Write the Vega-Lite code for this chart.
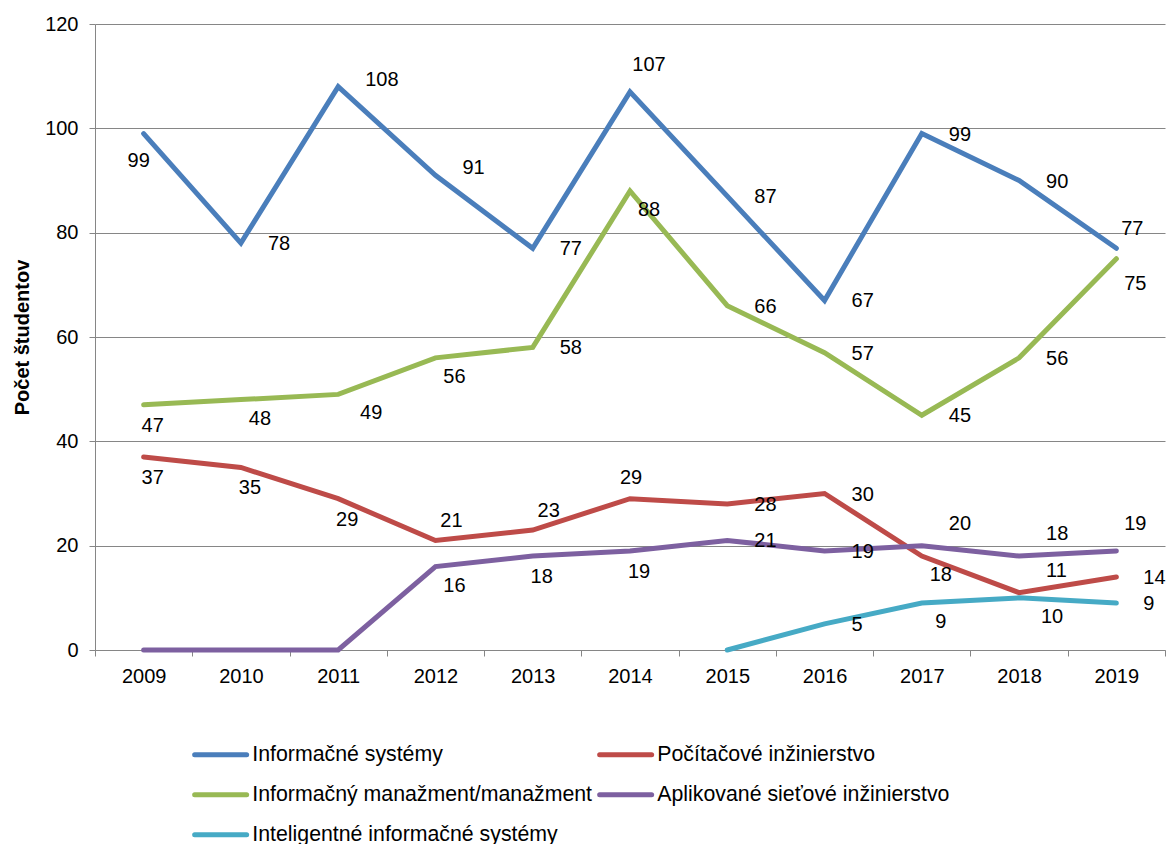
{
  "$schema": "https://vega.github.io/schema/vega-lite/v6.json",
  "width": 1070,
  "height": 626,
  "autosize": {"type": "none"},
  "padding": {"left": 95, "top": 24, "right": 4, "bottom": 194},
  "background": "white",
  "config": {
    "font": "Liberation Sans",
    "view": {"stroke": null},
    "axis": {
      "labelFont": "Liberation Sans",
      "labelFontSize": 20,
      "labelColor": "#000000",
      "domainColor": "#868686",
      "tickColor": "#868686",
      "gridColor": "#868686",
      "tickSize": 6,
      "titleFont": "Liberation Sans",
      "titleColor": "#000000"
    },
    "text": {"font": "Liberation Sans", "fontSize": 20, "color": "#000000", "baseline": "middle"}
  },
  "data": {
    "values": [
      {"rok": "2009", "odbor": "Informačné systémy", "skratka": "IS", "pocet": 99},
      {"rok": "2010", "odbor": "Informačné systémy", "skratka": "IS", "pocet": 78},
      {"rok": "2011", "odbor": "Informačné systémy", "skratka": "IS", "pocet": 108},
      {"rok": "2012", "odbor": "Informačné systémy", "skratka": "IS", "pocet": 91},
      {"rok": "2013", "odbor": "Informačné systémy", "skratka": "IS", "pocet": 77},
      {"rok": "2014", "odbor": "Informačné systémy", "skratka": "IS", "pocet": 107},
      {"rok": "2015", "odbor": "Informačné systémy", "skratka": "IS", "pocet": 87},
      {"rok": "2016", "odbor": "Informačné systémy", "skratka": "IS", "pocet": 67},
      {"rok": "2017", "odbor": "Informačné systémy", "skratka": "IS", "pocet": 99},
      {"rok": "2018", "odbor": "Informačné systémy", "skratka": "IS", "pocet": 90},
      {"rok": "2019", "odbor": "Informačné systémy", "skratka": "IS", "pocet": 77},
      {"rok": "2009", "odbor": "Počítačové inžinierstvo", "skratka": "PI", "pocet": 37},
      {"rok": "2010", "odbor": "Počítačové inžinierstvo", "skratka": "PI", "pocet": 35},
      {"rok": "2011", "odbor": "Počítačové inžinierstvo", "skratka": "PI", "pocet": 29},
      {"rok": "2012", "odbor": "Počítačové inžinierstvo", "skratka": "PI", "pocet": 21},
      {"rok": "2013", "odbor": "Počítačové inžinierstvo", "skratka": "PI", "pocet": 23},
      {"rok": "2014", "odbor": "Počítačové inžinierstvo", "skratka": "PI", "pocet": 29},
      {"rok": "2015", "odbor": "Počítačové inžinierstvo", "skratka": "PI", "pocet": 28},
      {"rok": "2016", "odbor": "Počítačové inžinierstvo", "skratka": "PI", "pocet": 30},
      {"rok": "2017", "odbor": "Počítačové inžinierstvo", "skratka": "PI", "pocet": 18},
      {"rok": "2018", "odbor": "Počítačové inžinierstvo", "skratka": "PI", "pocet": 11},
      {"rok": "2019", "odbor": "Počítačové inžinierstvo", "skratka": "PI", "pocet": 14},
      {"rok": "2009", "odbor": "Informačný manažment/manažment", "skratka": "IM", "pocet": 47},
      {"rok": "2010", "odbor": "Informačný manažment/manažment", "skratka": "IM", "pocet": 48},
      {"rok": "2011", "odbor": "Informačný manažment/manažment", "skratka": "IM", "pocet": 49},
      {"rok": "2012", "odbor": "Informačný manažment/manažment", "skratka": "IM", "pocet": 56},
      {"rok": "2013", "odbor": "Informačný manažment/manažment", "skratka": "IM", "pocet": 58},
      {"rok": "2014", "odbor": "Informačný manažment/manažment", "skratka": "IM", "pocet": 88},
      {"rok": "2015", "odbor": "Informačný manažment/manažment", "skratka": "IM", "pocet": 66},
      {"rok": "2016", "odbor": "Informačný manažment/manažment", "skratka": "IM", "pocet": 57},
      {"rok": "2017", "odbor": "Informačný manažment/manažment", "skratka": "IM", "pocet": 45},
      {"rok": "2018", "odbor": "Informačný manažment/manažment", "skratka": "IM", "pocet": 56},
      {"rok": "2019", "odbor": "Informačný manažment/manažment", "skratka": "IM", "pocet": 75},
      {"rok": "2009", "odbor": "Aplikované sieťové inžinierstvo", "skratka": "ASI", "pocet": 0},
      {"rok": "2010", "odbor": "Aplikované sieťové inžinierstvo", "skratka": "ASI", "pocet": 0},
      {"rok": "2011", "odbor": "Aplikované sieťové inžinierstvo", "skratka": "ASI", "pocet": 0},
      {"rok": "2012", "odbor": "Aplikované sieťové inžinierstvo", "skratka": "ASI", "pocet": 16},
      {"rok": "2013", "odbor": "Aplikované sieťové inžinierstvo", "skratka": "ASI", "pocet": 18},
      {"rok": "2014", "odbor": "Aplikované sieťové inžinierstvo", "skratka": "ASI", "pocet": 19},
      {"rok": "2015", "odbor": "Aplikované sieťové inžinierstvo", "skratka": "ASI", "pocet": 21},
      {"rok": "2016", "odbor": "Aplikované sieťové inžinierstvo", "skratka": "ASI", "pocet": 19},
      {"rok": "2017", "odbor": "Aplikované sieťové inžinierstvo", "skratka": "ASI", "pocet": 20},
      {"rok": "2018", "odbor": "Aplikované sieťové inžinierstvo", "skratka": "ASI", "pocet": 18},
      {"rok": "2019", "odbor": "Aplikované sieťové inžinierstvo", "skratka": "ASI", "pocet": 19},
      {"rok": "2015", "odbor": "Inteligentné informačné systémy", "skratka": "IIS", "pocet": 0},
      {"rok": "2016", "odbor": "Inteligentné informačné systémy", "skratka": "IIS", "pocet": 5},
      {"rok": "2017", "odbor": "Inteligentné informačné systémy", "skratka": "IIS", "pocet": 9},
      {"rok": "2018", "odbor": "Inteligentné informačné systémy", "skratka": "IIS", "pocet": 10},
      {"rok": "2019", "odbor": "Inteligentné informačné systémy", "skratka": "IIS", "pocet": 9}
    ]
  },
  "transform": [{"calculate": "datum.skratka + datum.rok", "as": "kluc"}],
  "encoding": {
    "x": {
      "field": "rok",
      "type": "ordinal",
      "scale": {"type": "band", "paddingInner": 0, "paddingOuter": 0},
      "axis": {"title": null, "labelAngle": 0, "tickBand": "extent", "labelPadding": 10, "grid": false}
    },
    "y": {
      "field": "pocet",
      "type": "quantitative",
      "scale": {"domain": [0, 120], "nice": false},
      "axis": {
        "values": [0, 20, 40, 60, 80, 100, 120],
        "title": "Počet študentov",
        "titleFontSize": 20,
        "titleFontWeight": "bold",
        "titlePadding": 12,
        "labelPadding": 11,
        "grid": true
      }
    }
  },
  "layer": [
    {
      "mark": {"type": "line", "strokeWidth": 5, "strokeCap": "round"},
      "encoding": {
        "color": {
          "field": "odbor",
          "type": "nominal",
          "scale": {
            "domain": ["Informačné systémy", "Informačný manažment/manažment", "Inteligentné informačné systémy", "Počítačové inžinierstvo", "Aplikované sieťové inžinierstvo"],
            "range": ["#4a7ebb", "#98b954", "#46aac5", "#be4b48", "#7d60a0"]
          },
          "legend": {
            "title": null,
            "orient": "none",
            "legendX": 115,
            "legendY": 720,
            "columns": 2,
            "padding": 0,
            "columnPadding": -4,
            "rowPadding": 18,
            "symbolType": "M-13,0H13",
            "symbolSize": 16,
            "symbolStrokeWidth": 5,
            "labelFont": "Liberation Sans",
            "labelFontSize": 21.3,
            "labelColor": "#000000",
            "labelOffset": 21,
            "labelLimit": 0,
            "encode": {"symbols": {"update": {"strokeCap": {"value": "round"}}}}
          }
        }
      }
    },
    {
      "transform": [{"filter": "indexof(['IS2010','IS2013','IS2015','IS2016','IS2017','IS2018','IM2013','IM2015','IM2016','IM2017','IM2018','PI2015','PI2016','PI2019','ASI2015','ASI2016','IIS2016','IIS2019'], datum.kluc) >= 0"}],
      "mark": {"type": "text", "align": "left", "dx": 27, "dy": 1},
      "encoding": {"text": {"field": "pocet", "type": "quantitative"}}
    },
    {
      "transform": [{"filter": "indexof(['IS2011','IS2012'], datum.kluc) >= 0"}],
      "mark": {"type": "text", "align": "left", "dx": 27, "dy": -7},
      "encoding": {"text": {"field": "pocet", "type": "quantitative"}}
    },
    {
      "transform": [{"filter": "indexof(['PI2018','ASI2017','ASI2018'], datum.kluc) >= 0"}],
      "mark": {"type": "text", "align": "left", "dx": 27, "dy": -22},
      "encoding": {"text": {"field": "pocet", "type": "quantitative"}}
    },
    {
      "transform": [{"filter": "indexof(['IM2011','IIS2018'], datum.kluc) >= 0"}],
      "mark": {"type": "text", "align": "center", "dx": 33, "dy": 19},
      "encoding": {"text": {"field": "pocet", "type": "quantitative"}}
    },
    {
      "transform": [{"filter": "indexof(['PI2009','PI2010','PI2011','ASI2013','ASI2014','IM2009'], datum.kluc) >= 0"}],
      "mark": {"type": "text", "align": "center", "dx": 9, "dy": 21},
      "encoding": {"text": {"field": "pocet", "type": "quantitative"}}
    },
    {
      "transform": [{"filter": "indexof(['IM2010','IM2012','IM2014','PI2017','ASI2012','IIS2017'], datum.kluc) >= 0"}],
      "mark": {"type": "text", "align": "center", "dx": 19, "dy": 19},
      "encoding": {"text": {"field": "pocet", "type": "quantitative"}}
    },
    {
      "transform": [{"filter": "indexof(['PI2012','PI2013','IS2019'], datum.kluc) >= 0"}],
      "mark": {"type": "text", "align": "center", "dx": 16, "dy": -19},
      "encoding": {"text": {"field": "pocet", "type": "quantitative"}}
    },
    {
      "transform": [{"filter": "datum.kluc === 'PI2014'"}],
      "mark": {"type": "text", "align": "center", "dx": 1, "dy": -21},
      "encoding": {"text": {"field": "pocet", "type": "quantitative"}}
    },
    {
      "transform": [{"filter": "indexof(['IS2014','ASI2019'], datum.kluc) >= 0"}],
      "mark": {"type": "text", "align": "center", "dx": 19, "dy": -27},
      "encoding": {"text": {"field": "pocet", "type": "quantitative"}}
    },
    {
      "transform": [{"filter": "datum.kluc === 'IM2019'"}],
      "mark": {"type": "text", "align": "center", "dx": 19, "dy": 25},
      "encoding": {"text": {"field": "pocet", "type": "quantitative"}}
    },
    {
      "transform": [{"filter": "datum.kluc === 'IS2009'"}],
      "mark": {"type": "text", "align": "center", "dx": -5, "dy": 27},
      "encoding": {"text": {"field": "pocet", "type": "quantitative"}}
    }
  ]
}
